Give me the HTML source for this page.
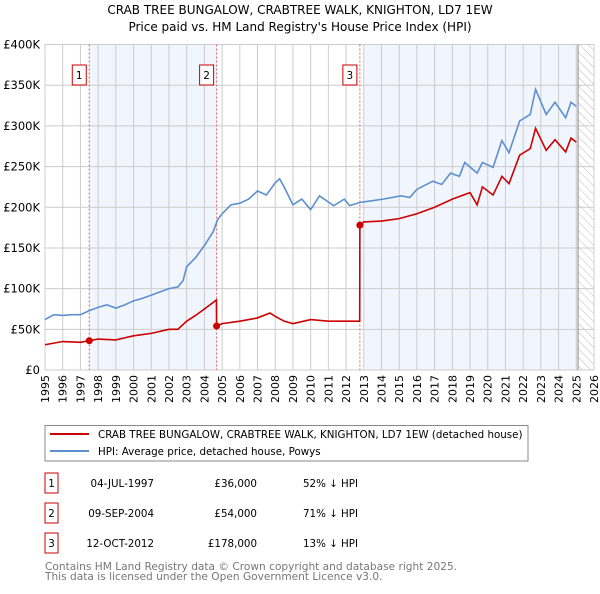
<!DOCTYPE html>
<html><head><meta charset="utf-8"><style>
body{margin:0;width:600px;height:590px;background:#fff;font-family:"DejaVu Sans","Liberation Sans",sans-serif;overflow:hidden}
svg text{font-family:"DejaVu Sans","Liberation Sans",sans-serif}
</style></head><body>
<svg id="c" width="600" height="590">
<defs><pattern id="hatch" width="6" height="6" patternUnits="userSpaceOnUse" patternTransform="rotate(-45)"><line x1="0" y1="0" x2="0" y2="6" stroke="#bbb" stroke-width="1"/></pattern></defs>
<text x="300" y="14" text-anchor="middle" font-size="12">CRAB TREE BUNGALOW, CRABTREE WALK, KNIGHTON, LD7 1EW</text>
<text x="300" y="31" text-anchor="middle" font-size="12">Price paid vs. HM Land Registry's House Price Index (HPI)</text>
<g id="plot"></g>
<rect x="45" y="425.5" width="483" height="35.5" fill="#fff" stroke="#888"/>
<line x1="50" y1="434" x2="89" y2="434" stroke="#cc0000" stroke-width="2"/>
<text x="98" y="438" font-size="10.3">CRAB TREE BUNGALOW, CRABTREE WALK, KNIGHTON, LD7 1EW (detached house)</text>
<line x1="50" y1="451" x2="89" y2="451" stroke="#5b8fd0" stroke-width="2"/>
<text x="98" y="455" font-size="10.3">HPI: Average price, detached house, Powys</text>
<g id="tbl" font-size="10.3"></g>
<text x="45" y="570" font-size="10.6" fill="#777">Contains HM Land Registry data © Crown copyright and database right 2025.</text>
<text x="45" y="580" font-size="10.6" fill="#777">This data is licensed under the Open Government Licence v3.0.</text>
</svg>
<script>
const hpiYears=[1995,1995.5,1996,1996.5,1997,1997.5,1998,1998.5,1999,1999.5,2000,2000.5,2001,2001.5,2002,2002.5,2002.8,2003,2003.5,2004,2004.5,2004.75,2005,2005.5,2006,2006.5,2007,2007.5,2008,2008.25,2008.5,2009,2009.5,2010,2010.5,2011.3,2011.9,2012.2,2012.8,2014.1,2015.1,2015.6,2016,2016.9,2017.4,2017.9,2018.4,2018.7,2019.4,2019.7,2020.3,2020.8,2021.2,2021.8,2022.4,2022.7,2023.3,2023.8,2024.4,2024.7,2025.0];
const hpiValues=[62,68,67,68,68,73,77,80,76,80,85,88,92,96,100,102,110,127,138,153,170,185,192,203,205,210,220,215,230,235,225,203,210,197,214,202,210,202,206,210,214,212,222,232,228,242,238,255,242,255,249,282,267,306,314,345,314,329,310,329,324];
const priceYears=[1995,1996,1997,1997.5,1998,1999,2000,2001,2002,2002.5,2003,2003.5,2004,2004.68,2004.69,2005,2006,2007,2007.7,2008,2008.5,2009,2010,2011,2012,2012.77,2012.78,2013,2014,2015,2016,2017,2018,2019,2019.4,2019.7,2020.3,2020.8,2021.2,2021.8,2022.4,2022.7,2023.3,2023.8,2024.4,2024.7,2025.0];
const priceValues=[31,35,34,36,38,37,42,45,50,50,60,67,75,86,54,57,60,64,70,66,60,57,62,60,60,60,178,182,183,186,192,200,210,218,203,225,215,238,229,264,272,297,270,283,268,285,280];
const saleYears=[1997.5,2004.69,2012.78];
const saleValues=[36,54,178];
const saleLabels=["1","2","3"];
const saleDates=["04-JUL-1997","09-SEP-2004","12-OCT-2012"];
const salePrices=["£36,000","£54,000","£178,000"];
const saleHpi=["52% ↓ HPI","71% ↓ HPI","13% ↓ HPI"];
const yTicks=[0,50,100,150,200,250,300,350,400];
const yTickLabels=["£0","£50K","£100K","£150K","£200K","£250K","£300K","£350K","£400K"];
const xTicks=[1995,1996,1997,1998,1999,2000,2001,2002,2003,2004,2005,2006,2007,2008,2009,2010,2011,2012,2013,2014,2015,2016,2017,2018,2019,2020,2021,2022,2023,2024,2025,2026];

const X0=45,X1=594,Y0=370,Y1=44.5;
const xs=y=>X0+(y-1995)/(2026-1995)*(X1-X0);
const ys=v=>Y0-v/400*(Y0-Y1);
const NS="http://www.w3.org/2000/svg";
const plot=document.getElementById('plot');
function mk(t,a,p){const e=document.createElementNS(NS,t);for(const k in a)e.setAttribute(k,a[k]);(p||plot).appendChild(e);return e;}
let e;
e=mk('rect',{x:xs(saleYears[0]),y:Y1,width:xs(saleYears[1])-xs(saleYears[0]),height:Y0-Y1,fill:'#eef3fc',opacity:0.8});


e=mk('rect',{x:xs(2013),y:Y1,width:xs(2025.1)-xs(2013),height:Y0-Y1,fill:'#eef3fc',opacity:0.8});


e=mk('rect',{x:xs(2025.1),y:Y1,width:X1-xs(2025.1),height:Y0-Y1,fill:'url(#hatch)'});


xTicks.forEach((t,i)=>{
 e=mk('line',{x1:xs(t),x2:xs(t),y1:Y1,y2:Y0,stroke:'#ccc'});
 
 
 const tx=xs(t)+4, ty=375;
 e=mk('text',{x:tx,y:ty,'text-anchor':'end','font-size':11,transform:'rotate(-90 '+tx+' '+ty+')'});
 e.textContent=t;
 
 
});
yTicks.forEach((t,i)=>{
 e=mk('line',{x1:X0,x2:X1,y1:ys(t),y2:ys(t),stroke:'#ccc'});
 
 
 e=mk('text',{x:40,y:ys(t)+4,'text-anchor':'end','font-size':11.5});
 e.textContent=yTickLabels[i];
 
 
});
e=mk('line',{x1:xs(2025.1),x2:xs(2025.1),y1:Y1,y2:Y0,stroke:'#888'});


saleYears.forEach((s,i)=>{
 e=mk('line',{x1:xs(s),x2:xs(s),y1:Y1,y2:Y0,stroke:'#e06060','stroke-dasharray':'2,2'});
 
 
});
e=mk('polyline',{points:hpiYears.map((y,i)=>xs(y)+','+ys(hpiValues[i])).join(' '),fill:'none',stroke:'#5b8fd0','stroke-width':1.6});


e=mk('polyline',{points:priceYears.map((y,i)=>xs(y)+','+ys(priceValues[i])).join(' '),fill:'none',stroke:'#cc0000','stroke-width':1.6});


saleYears.forEach((s,i)=>{
 e=mk('circle',{cx:xs(s),cy:ys(saleValues[i]),r:3.5,fill:'#cc0000'});
 
 
 e=mk('rect',{x:xs(s)-17,y:65,width:14,height:20,fill:'#fff',stroke:'#cc0000'});
 
 
 e=mk('text',{x:xs(s)-10,y:79,'text-anchor':'middle','font-size':10.5});
 e.textContent=saleLabels[i];
 
 
});
const tbl=document.getElementById('tbl');
saleLabels.forEach((l,i)=>{
 const cy=483+i*30;
 e=mk('rect',{x:45,y:cy-10,width:13,height:20,fill:'#fff',stroke:'#cc0000'},tbl);
 
 
 e=mk('text',{x:51.5,y:cy+4,'text-anchor':'middle'},tbl);e.textContent=l;
 
 
 e=mk('text',{x:154,y:cy+4,'text-anchor':'end'},tbl);e.textContent=saleDates[i];
 
 
 e=mk('text',{x:257,y:cy+4,'text-anchor':'end'},tbl);e.textContent=salePrices[i];
 
 
 e=mk('text',{x:303,y:cy+4},tbl);e.textContent=saleHpi[i];
 
 
});
</script>
</body></html>
